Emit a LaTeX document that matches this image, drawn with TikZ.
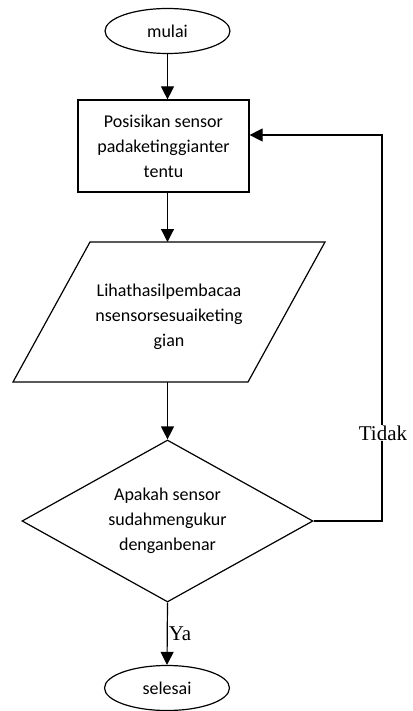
\documentclass[tikz,border=0pt]{standalone}
\usepackage{fontspec}
\setmainfont{Carlito}
\newfontfamily\serifkata{Liberation Serif}
\usepackage{tikz}
\usetikzlibrary{arrows.meta}
\usetikzlibrary{shapes.geometric}

\begin{document}
\begin{tikzpicture}[x=1pt,y=-1pt,line width=1.2pt,
        every node/.style={font=\fontsize{18}{25}\selectfont,align=center},
        terminal/.style={draw,ellipse,minimum width=125pt,minimum height=45pt,inner sep=0pt},
        proses/.style={draw,rectangle,minimum width=171pt,minimum height=92pt},
        keputusan/.style={draw,diamond,shape aspect=1.8,minimum width=291pt,minimum height=162pt,inner sep=0pt},
        jawab/.style={font=\serifkata\fontsize{21}{25}\selectfont,inner sep=1pt},
        panah/.style={-{Triangle[length=13pt,width=13pt]}}]
        \useasboundingbox (0,0) rectangle (412,711);
        \node[terminal] (mulai) at (167.5,31) {mulai};
        \node[proses] (posisi) at (163.5,146) {Posisikan sensor\\padaketinggianter\\tentu};
        \draw (90,242) -- (325,242) -- (248,382) -- (13,382) -- cycle;
        \node (lihat) at (169,317) {Lihathasilpembacaa\\nsensorsesuaiketing\\gian};
        \coordinate (lihatatas) at (167.5,242);
        \coordinate (lihatbawah) at (167.5,382);
        \node[keputusan] (cek) at (167.5,521) {Apakah sensor\\sudahmengukur\\denganbenar};
        \node[terminal] (selesai) at (167,688) {selesai};
        \coordinate (balik) at (382,135);
        \draw[panah] (mulai.south) -- (mulai.south |- posisi.north);
        \draw[panah] (posisi.south -| lihatatas) -- (lihatatas);
        \draw[panah] (lihatbawah) -- (cek.north);
        \draw[panah] (cek.south) -- node[jawab,right] {Ya} (selesai.north);
        \draw[panah] (cek.east) -| (balik) -- (posisi.east |- balik);
        \node[jawab,fill=white] (tidak) at (383,433) {Tidak};
      \end{tikzpicture}
\end{document}
